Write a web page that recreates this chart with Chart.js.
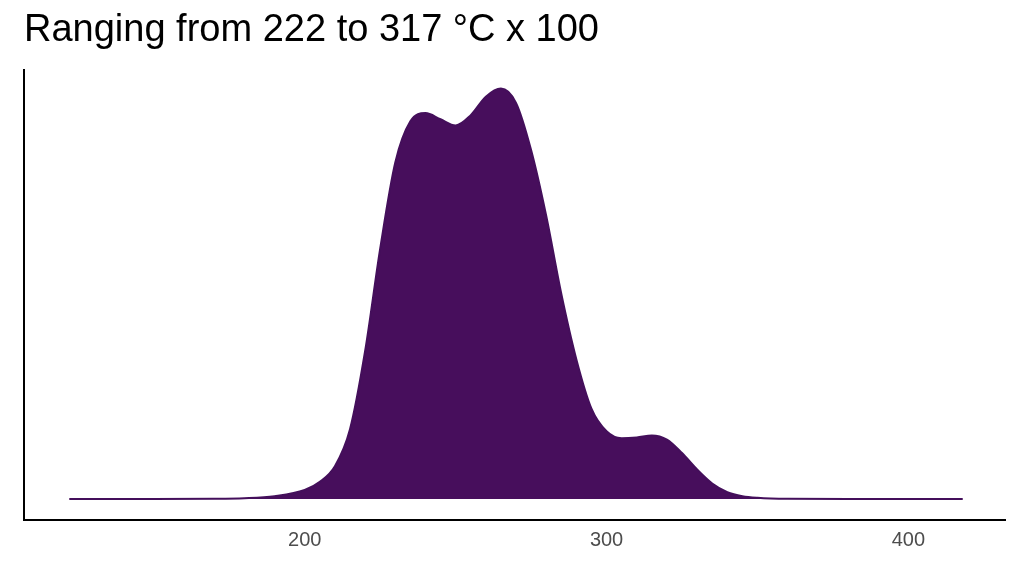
<!DOCTYPE html><html><head><script src="https://cdn.jsdelivr.net/npm/chart.js"></script>
<style>body{margin:0;background:#fff}#w{width:1024px;height:576px}</style></head><body><div id="w"><canvas id="c"></canvas></div>
<script>
const xs=[122,150,170,180,190,200,205,210,215,220,225,230,235,240,245,250,255,260,265,270,275,280,285,290,295,300,305,310,315,320,325,330,335,340,345,350,360,380,418];
const ys=[0,0,0.0005,0.002,0.007,0.022,0.042,0.08,0.17,0.36,0.61,0.82,0.92,0.94,0.925,0.91,0.935,0.98,1.0,0.965,0.85,0.69,0.50,0.34,0.22,0.165,0.148,0.15,0.155,0.145,0.112,0.072,0.038,0.017,0.007,0.003,0.0005,0,0];
const xTicks=[200,300,400];
new Chart(document.getElementById('c'),{type:'scatter',
data:{datasets:[{data:xs.map((x,i)=>({x:x,y:ys[i]})),showLine:true,cubicInterpolationMode:'monotone',pointRadius:0,borderColor:'#440F5B',borderWidth:2,backgroundColor:'#470E5C',fill:'origin'}]},
options:{responsive:true,maintainAspectRatio:false,animation:false,
layout:{padding:{left:24,right:19,top:0,bottom:22}},
plugins:{legend:{display:false},tooltip:{enabled:false},title:{display:true,text:'Ranging from 222 to 317 °C x 100',align:'start',color:'#000',font:{family:'Liberation Sans',size:38,weight:'normal'},padding:{top:8,bottom:16}}},
scales:{x:{type:'linear',min:107,max:432,afterBuildTicks:a=>{a.ticks=xTicks.map(v=>({value:v}))},grid:{display:false,drawTicks:true,tickLength:6,tickColor:'#333'},border:{color:'#000',width:2},ticks:{color:'#4d4d4d',font:{family:'Liberation Sans',size:20},padding:2}},
y:{min:-0.051,max:1.046,ticks:{display:false},grid:{display:false,drawTicks:false},border:{color:'#000',width:2}}}}});
</script></body></html>
